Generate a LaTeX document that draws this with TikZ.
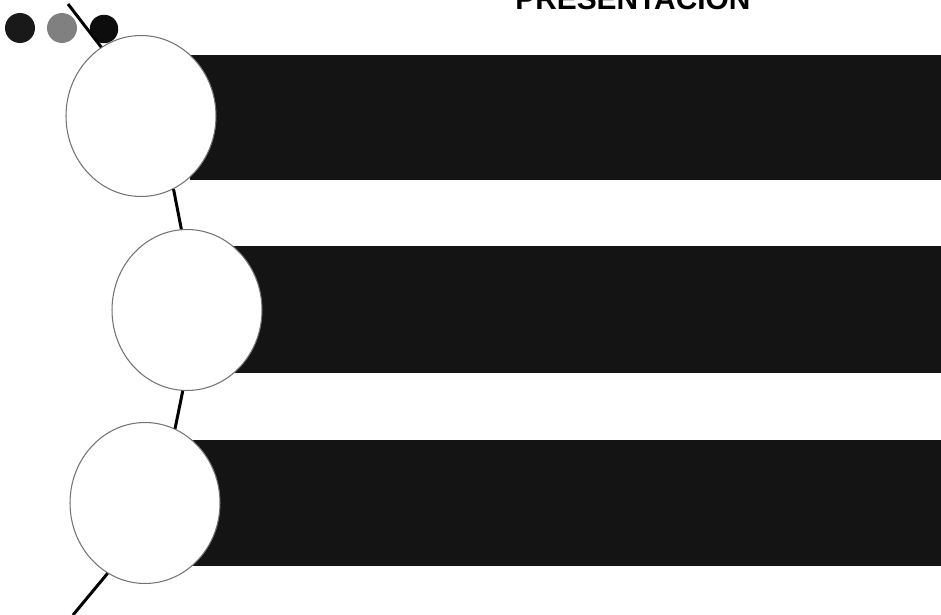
\documentclass[tikz,border=0pt]{standalone}
\usepackage{fontspec}
\setmainfont{Liberation Sans}
\usetikzlibrary{shapes.geometric, positioning}

\begin{document}
\begin{tikzpicture}[x=0.02cm, y=-0.02cm,
    band/.style={fill=black!92},
    disc/.style={ellipse, draw=black!55, line width=0.6pt, fill=white, inner sep=0pt, minimum width=3cm, minimum height=3.22cm},
    dot/.style={circle, inner sep=0pt, minimum size=0.6cm},
    link/.style={line width=1.7pt, black}]
  \useasboundingbox (0,0) rectangle (941,615);

  \fill[band] (190,55) rectangle (941,180);
  \fill[band] (230,246) rectangle (941,373);
  \fill[band] (190,440) rectangle (941,566);

  \node[dot, fill=black!90] (d1) at (20,28) {};
  \node[dot, fill=black!50] (d2) at (62,28) {};
  \node[dot, fill=black!95, minimum size=0.57cm] (d3) at (104,29) {};

  \node[disc] (c1) at (141,116) {};
  \node[disc] (c2) at (187,310) {};
  \node[disc] (c3) at (145,503) {};

  \coordinate (top) at (68,4);
  \coordinate (foot) at (73,615);

  \draw[link] (top) -- (c1.120);
  \draw[link] (c1.-66) -- (c2.94);
  \draw[link] (c2.-93) -- (c3.68);
  \draw[link] (c3.-118) -- (foot);

  \node[anchor=base west, inner sep=0pt, font=\bfseries\fontsize{17pt}{20pt}\selectfont] (title) at (515,10) {PRESENTACIÓN};
\end{tikzpicture}
\end{document}
